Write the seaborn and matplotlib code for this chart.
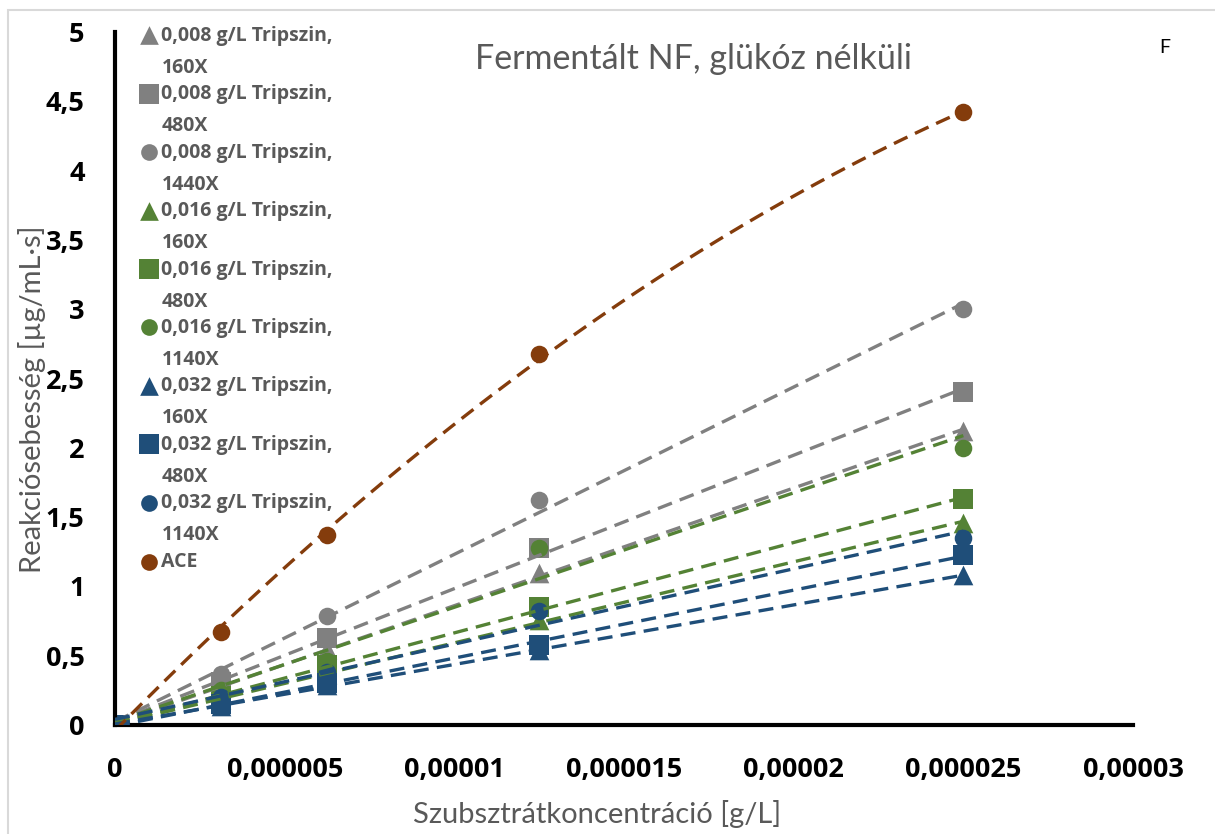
import numpy as np
import pandas as pd
import matplotlib
matplotlib.use("Agg")
import matplotlib.pyplot as plt
from matplotlib.ticker import FuncFormatter
from matplotlib.legend_handler import HandlerPathCollection
from matplotlib.patches import Rectangle
import seaborn as sns

sns.set_theme(style="white")
plt.rcParams['font.family'] = ['Lato', 'DejaVu Sans']
plt.rcParams['ytick.major.pad'] = 22
plt.rcParams['xtick.major.pad'] = 23
BOLD_FAMILY = ['Open Sans', 'DejaVu Sans']

# Substrate concentration [g/L]
conc = [0.0, 3.125e-6, 6.25e-6, 1.25e-5, 2.5e-5]

# Reaction rates [µg/mL·s]
t008_160 = [0.0, 0.27, 0.55, 1.10, 2.12]
t008_480 = [0.0, 0.31, 0.63, 1.28, 2.40]
t008_1440 = [0.0, 0.37, 0.79, 1.62, 3.00]
t016_160 = [0.0, 0.19, 0.37, 0.76, 1.46]
t016_480 = [0.0, 0.21, 0.43, 0.85, 1.63]
t016_1140 = [0.0, 0.25, 0.46, 1.28, 2.00]
t032_160 = [0.0, 0.14, 0.29, 0.54, 1.08]
t032_480 = [0.0, 0.15, 0.30, 0.58, 1.23]
t032_1140 = [0.0, 0.20, 0.38, 0.82, 1.35]
ace = [0.0, 0.67, 1.37, 2.68, 4.42]

labels = [
    "0,008 g/L Tripszin,\n160X", "0,008 g/L Tripszin,\n480X", "0,008 g/L Tripszin,\n1440X",
    "0,016 g/L Tripszin,\n160X", "0,016 g/L Tripszin,\n480X", "0,016 g/L Tripszin,\n1140X",
    "0,032 g/L Tripszin,\n160X", "0,032 g/L Tripszin,\n480X", "0,032 g/L Tripszin,\n1140X",
    "ACE",
]
series = [t008_160, t008_480, t008_1440, t016_160, t016_480, t016_1140,
          t032_160, t032_480, t032_1140, ace]

GRAY, GREEN, BLUE, BROWN = "#808080", "#548235", "#1F4E79", "#843C0C"
colors = [GRAY] * 3 + [GREEN] * 3 + [BLUE] * 3 + [BROWN]
markers = ["^", "s", "o"] * 3 + ["o"]
sizes = {"^": 200, "s": 210, "o": 160}
fit_order = [1] * 9 + [2]


class RaisedMarker(HandlerPathCollection):
    """Legend marker aligned with the first line of a two-line label."""

    def __init__(self, shift, **kw):
        super().__init__(**kw)
        self.shift = shift

    def get_ydata(self, legend, xdescent, ydescent, width, height, fontsize):
        ydata = super().get_ydata(legend, xdescent, ydescent, width, height,
                                  fontsize)
        return np.asarray(ydata) + self.shift


fig = plt.figure(figsize=(12.15, 8.34), dpi=100)
# chart-area border
fig.patches.append(Rectangle((8, -20), 1230, 834 + 20 - 10, transform=None,
                             fill=False, edgecolor="#D9D9D9", linewidth=1.5))
ax = fig.add_axes([0.0947, 0.1307, 0.8378, 0.8309])

x = np.array(conc)
xs = np.linspace(0, conc[-1], 100)
for y, c, m, lab, order in zip(series, colors, markers, labels, fit_order):
    coef = np.polyfit(x, np.array(y), order)
    ax.plot(xs, np.polyval(coef, xs), color=c, lw=2.4, ls=(0, (4.5, 2.5)),
            zorder=3, label="_nolegend_")
    df = pd.DataFrame({"x": conc, "y": y})
    sns.scatterplot(data=df, x="x", y="y", marker=m, color=c, s=sizes[m],
                    linewidth=0, ax=ax, label=lab, zorder=2)

ax.set_xlim(0, 3e-5)
ax.set_ylim(0, 5)
ax.set_xticks(np.arange(0, 3.00001e-5, 5e-6))
ax.set_yticks(np.arange(0, 5.01, 0.5))


def fmt(v, _):
    s = f"{v:.6f}".rstrip("0").rstrip(".")
    return s.replace(".", ",")


ax.xaxis.set_major_formatter(FuncFormatter(fmt))
ax.yaxis.set_major_formatter(FuncFormatter(fmt))
ax.xaxis.set_tick_params(length=0, pad=23, labelsize=19.5, labelcolor="black")
ax.yaxis.set_tick_params(length=0, pad=22, labelsize=19.5, labelcolor="black")
for tick in ax.yaxis.get_major_ticks():
    tick.set_pad(22)
for t in ax.get_xticklabels() + ax.get_yticklabels():
    t.set_fontweight("bold")
    t.set_family(BOLD_FAMILY)

for side in ["top", "right"]:
    ax.spines[side].set_visible(False)
for side in ["left", "bottom"]:
    ax.spines[side].set_color("black")
    ax.spines[side].set_linewidth(3)

ax.set_xlabel("Szubsztrátkoncentráció [g/L]", fontsize=21, color="#595959")
ax.xaxis.set_label_coords(0.474, -0.108)
ax.set_ylabel("Reakciósebesség [µg/mL·s]", fontsize=21, color="#595959")
ax.yaxis.set_label_coords(-0.068, 0.47)
ax.set_title("Fermentált NF, glükóz nélküli", fontsize=24.5, color="#595959",
             x=0.568, y=0.935)
fig.text(0.954, 0.937, "F", fontsize=14, color="black")

handles, leg_labels = ax.get_legend_handles_labels()
fs = 14
hmap = {h: RaisedMarker(0.98 * fs) for h, l in zip(handles, leg_labels) if "\n" in l}
leg = ax.legend(handles, leg_labels, loc="upper left",
                bbox_to_anchor=(0.016, 1.02), frameon=False, fontsize=fs,
                labelspacing=0.33, handletextpad=0.15, handlelength=1.0,
                markerscale=0.95, borderaxespad=0, handler_map=hmap)
for t in leg.get_texts():
    t.set_color("#595959")
    t.set_fontweight("bold")
    t.set_family(BOLD_FAMILY)
    t.set_linespacing(1.8)

fig.savefig("out.png", dpi=100)
